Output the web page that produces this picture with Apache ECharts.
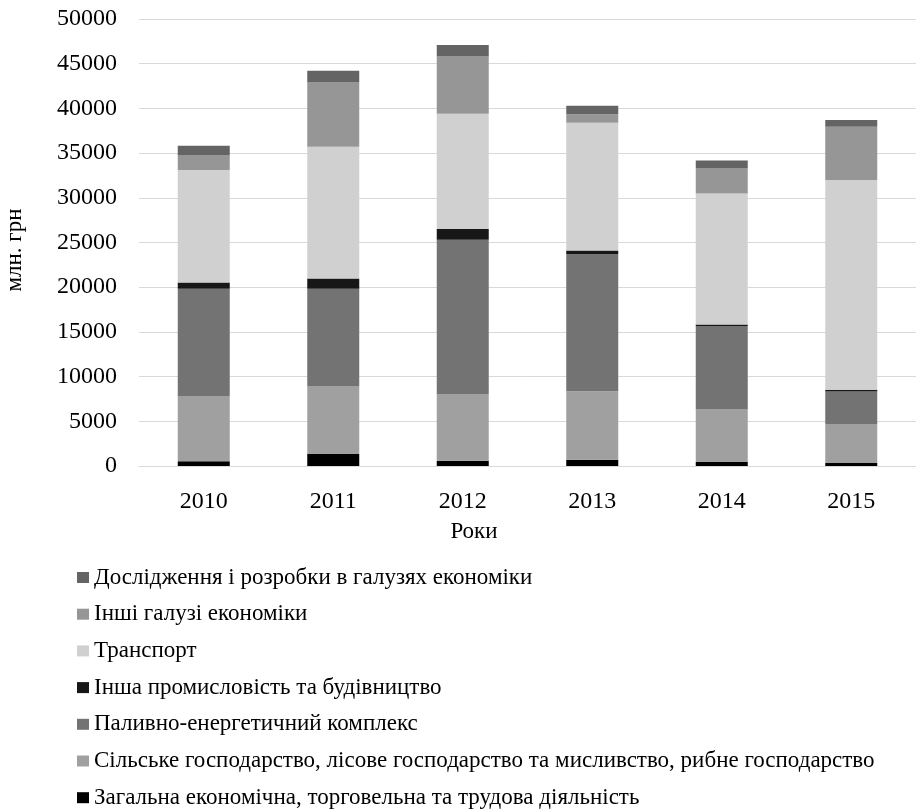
<!DOCTYPE html>
<html>
<head>
<meta charset="utf-8">
<script src="https://cdn.jsdelivr.net/npm/echarts@6/dist/echarts.min.js"></script>
<style>html,body{margin:0;padding:0;background:#fff;}#chart{width:916px;height:809px;}</style>
</head>
<body>
<div id="chart"></div>
<script>
const years = ['2010', '2011', '2012', '2013', '2014', '2015'];
const yTicks = { min: 0, max: 50000, interval: 5000 };

const seriesNames = [
  'Загальна економічна, торговельна та трудова діяльність',
  'Сільське господарство, лісове господарство та мисливство, рибне господарство',
  'Паливно-енергетичний комплекс',
  'Інша промисловість та будівництво',
  'Транспорт',
  'Інші галузі економіки',
  'Дослідження і розробки в галузях економіки'
];
const zagalna   = [520, 1340, 600, 700, 450, 340];
const silske    = [7250, 7550, 7400, 7670, 5860, 4290];
const palyvno   = [12050, 10950, 17300, 15330, 9340, 3700];
const inshaProm = [700, 1120, 1200, 400, 190, 190];
const transport = [12600, 14750, 12900, 14300, 14650, 23460];
const inshiGal  = [1600, 7200, 6400, 950, 2800, 5980];
const doslidz   = [1100, 1300, 1300, 950, 870, 740];

const values = [zagalna, silske, palyvno, inshaProm, transport, inshiGal, doslidz];
const colors = ['#000000', '#a0a0a0', '#737373', '#171717', '#d0d0d0', '#969696', '#646464'];

const FONT = "'Liberation Serif', 'Times New Roman', serif";

const chart = echarts.init(document.getElementById('chart'));
chart.setOption({
  animation: false,
  backgroundColor: '#fff',
  grid: { left: 139, right: -5.4, top: 19, bottom: 343, containLabel: false },
  xAxis: {
    type: 'category',
    data: years,
    axisLine: { lineStyle: { color: '#d9d9d9', width: 1 } },
    axisTick: { show: false },
    axisLabel: { color: '#000', fontFamily: FONT, fontSize: 24, margin: 24 }
  },
  yAxis: {
    type: 'value',
    min: yTicks.min, max: yTicks.max, interval: yTicks.interval,
    axisLine: { show: false },
    axisTick: { show: false },
    splitLine: { lineStyle: { color: '#d9d9d9', width: 1 } },
    axisLabel: { color: '#000', fontFamily: FONT, fontSize: 24, margin: 22, formatter: v => String(v) }
  },
  legend: {
    orient: 'vertical',
    left: 72,
    top: 561,
    height: 300,
    itemWidth: 12,
    itemHeight: 11,
    itemGap: 13.7,
    icon: 'rect',
    selectedMode: false,
    data: seriesNames.slice().reverse(),
    textStyle: { color: '#000', fontFamily: FONT, fontSize: 23, lineHeight: 23, padding: [0, 0, 0, 0] }
  },
  graphic: [
    { type: 'text', x: 15, y: 250, rotation: Math.PI / 2,
      style: { text: 'млн. грн', fill: '#000', font: '23px ' + FONT, textAlign: 'center', textVerticalAlign: 'middle' } },
    { type: 'text', x: 474, y: 532,
      style: { text: 'Роки', fill: '#000', font: '23px ' + FONT, textAlign: 'center', textVerticalAlign: 'middle' } }
  ],
  series: seriesNames.map((name, i) => ({
    name: name,
    type: 'bar',
    stack: 'total',
    barWidth: 52,
    data: values[i],
    itemStyle: { color: colors[i] }
  }))
});
</script>
</body>
</html>
